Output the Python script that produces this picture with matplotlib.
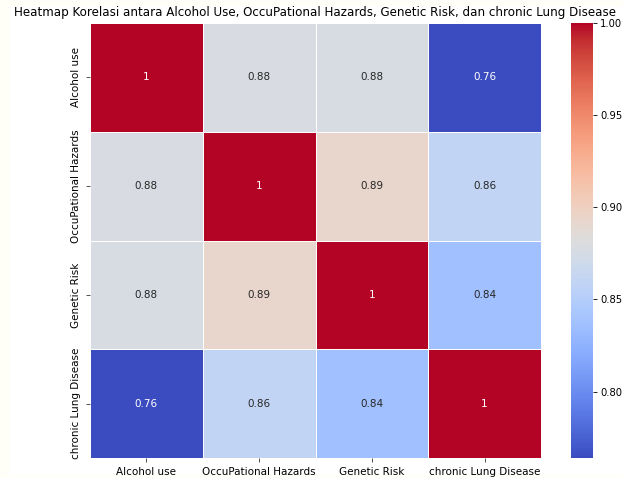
import numpy as np
import pandas as pd
import matplotlib
matplotlib.use("Agg")
import matplotlib.pyplot as plt
import seaborn as sns
from matplotlib.patches import Rectangle

labels = ["Alcohol use", "OccuPational Hazards", "Genetic Risk", "chronic Lung Disease"]
row_alcohol = [1.0, 0.878, 0.877, 0.764]
row_occup = [0.878, 1.0, 0.893, 0.859]
row_genetic = [0.877, 0.893, 1.0, 0.836]
row_lung = [0.764, 0.859, 0.836, 1.0]

corr = pd.DataFrame([row_alcohol, row_occup, row_genetic, row_lung],
                    index=labels, columns=labels)

fig = plt.figure(figsize=(6.23, 4.78), dpi=100, facecolor="#fffff8")
fig.patches.append(Rectangle((10 / 623, 3 / 478), 1 - 10 / 623, 469 / 478,
                             transform=fig.transFigure, facecolor="white",
                             edgecolor="none", zorder=-1))

ax = fig.add_axes([90 / 623, 1 - 458 / 478, 451 / 623, 435 / 478])
cax = fig.add_axes([571 / 623, 1 - 458 / 478, 22 / 623, 435 / 478])

sns.heatmap(corr, annot=True, cmap="coolwarm", linewidths=0.5, linecolor="white",
            ax=ax, cbar_ax=cax, annot_kws={"fontsize": 7.5})

ax.set_title("Heatmap Korelasi antara Alcohol Use, OccuPational Hazards, Genetic Risk, dan chronic Lung Disease",
             fontsize=8.6, pad=5)
ax.tick_params(axis="both", labelsize=7.5, length=3, width=0.6, color="#333333")
ax.set_xticklabels(labels, rotation=0)
ax.set_yticklabels(labels, rotation=90, va="center")
cax.tick_params(labelsize=7.2, length=3, width=0.6, pad=2)
cax.set_yticks([0.80, 0.85, 0.90, 0.95, 1.00])
cax.set_yticklabels(["0.80", "0.85", "0.90", "0.95", "1.00"])

fig.savefig("out.png", dpi=100, facecolor=fig.get_facecolor())
